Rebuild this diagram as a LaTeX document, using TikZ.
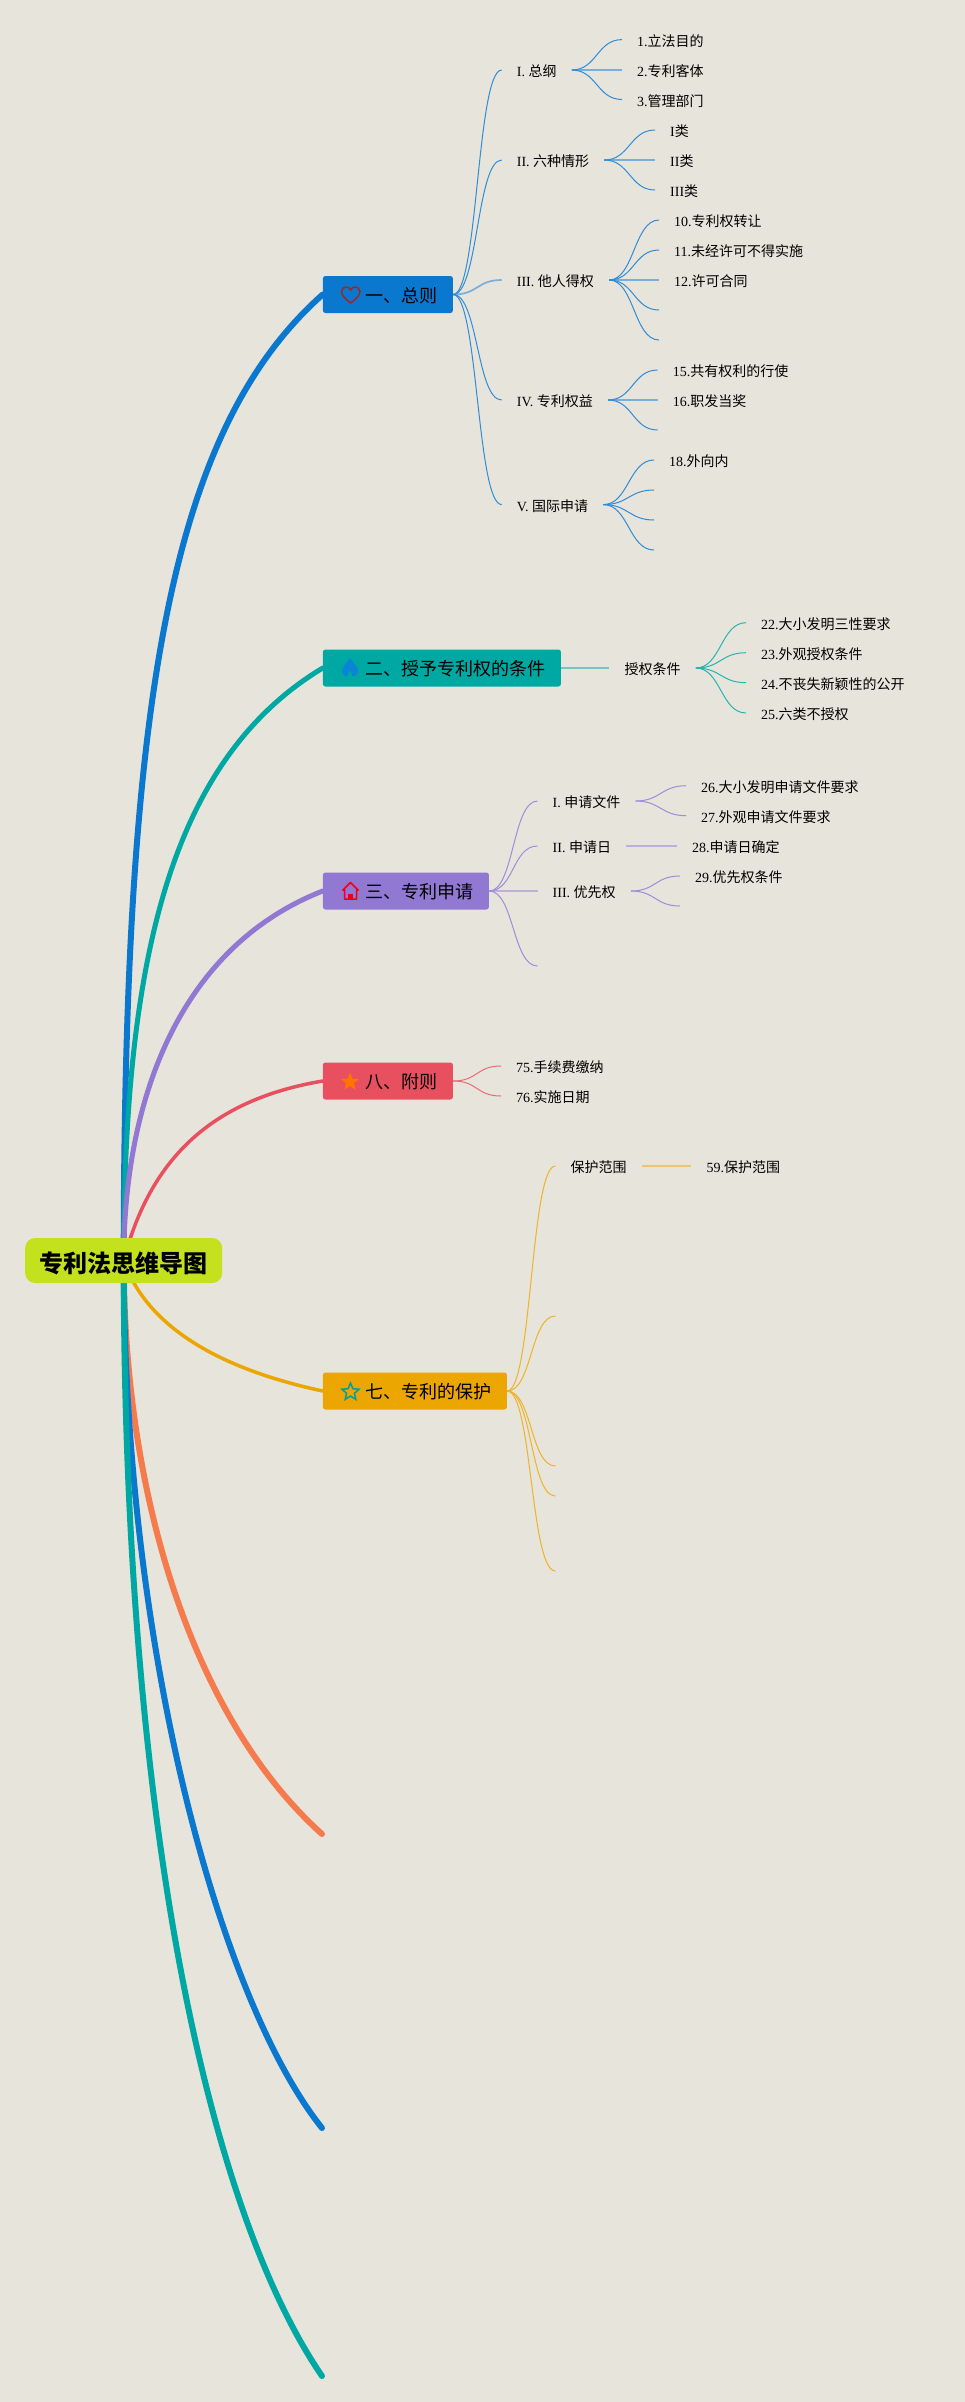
\documentclass[tikz,border=0pt]{standalone}
\usepackage{fontspec}
\setmainfont{Liberation Serif}
\newfontfamily\cjk{Noto Sans CJK SC}
\usetikzlibrary{shapes.geometric,backgrounds}
\definecolor{pageBg}{RGB}{231,228,219}
\definecolor{rootGreen}{RGB}{195,225,28}
\definecolor{mainBlue}{RGB}{11,120,208}
\definecolor{mainTeal}{RGB}{0,168,163}
\definecolor{mainPurple}{RGB}{145,120,211}
\definecolor{mainRed}{RGB}{233,80,95}
\definecolor{mainGold}{RGB}{235,166,2}
\definecolor{mainOrange}{RGB}{245,123,77}
\tikzset{
  topic/.style={rectangle,rounded corners=2.5pt,anchor=west,minimum height=37pt,inner xsep=15pt,inner ysep=0pt,
    text height=16.2pt,text depth=1pt,font=\fontsize{18}{20}\selectfont\cjk,execute at begin node=\hspace*{28pt}},
  label/.style={anchor=west,inner xsep=15pt,inner ysep=0pt,text height=14pt,text depth=1pt,font=\fontsize{14}{16}\selectfont},
  branch/.style={line width=#1,line cap=round},
  sublink/.style={line width=1pt,out=0,in=180,out distance=25pt,in distance=25pt},
  flat/.style={line width=1.7pt,opacity=.6},
}

\begin{document}
\begin{tikzpicture}[x=1pt,y=-1pt]
\useasboundingbox (0,0) rectangle (965,2402);
\begin{scope}[on background layer]
\fill[pageBg] (0,0) rectangle (965,2402);
\end{scope}

% Root
\node[rectangle,rounded corners=10pt,fill=rootGreen,minimum width=197pt,minimum height=45pt,inner sep=0pt,
  text height=24.2pt,text depth=1pt,font=\fontsize{24}{26}\selectfont\cjk\bfseries] (root) at (123.7,1260.5) {专利法思维导图};

% Topics
\node[topic,fill=mainBlue] (t1) at (322.7,294.5) {一、总则};
\node[topic,fill=mainTeal] (t2) at (322.7,668) {二、授予专利权的条件};
\node[topic,fill=mainPurple] (t3) at (322.7,891) {三、专利申请};
\node[topic,fill=mainRed] (t8) at (322.7,1081) {八、附则};
\node[topic,fill=mainGold] (t7) at (322.7,1391) {七、专利的保护};
\coordinate (fa) at (322,1834);
\coordinate (fb) at (322,2128);
\coordinate (fc) at (322,2376);

% Icons
\draw[line width=1.5pt,color=red!55!black!85] (350.7,303) .. controls (344,298) and (341.5,294.5) .. (341.5,291.5) .. controls (341.5,288.5) and (344,287) .. (346,287) .. controls (348,287) and (350,288) .. (350.7,290) .. controls (351.4,288) and (353.4,287) .. (355.4,287) .. controls (357.4,287) and (360,288.5) .. (360,291.5) .. controls (360,294.5) and (357.4,298) .. (350.7,303) -- cycle;
\fill[color=mainBlue!90!cyan] (350,658) .. controls (352,662) and (358,666) .. (358,671) .. controls (358,675) and (354,677) .. (350,677) .. controls (346,677) and (342,675) .. (342,671) .. controls (342,666) and (348,662) .. (350,658) -- cycle;
\fill[mainTeal] (347.5,677) .. controls (348,673) and (349,672) .. (350,671) .. controls (351,672) and (352,673) .. (352.5,677) -- cycle;
\draw[line width=1.5pt,color=red!80!purple,line join=round] (342.5,890.5) -- (350.5,882.5) -- (358.5,890.5) (344.5,889) -- (344.5,899) -- (356.5,899) -- (356.5,889);
\fill[color=red!80!purple] (348.3,899) rectangle (352.7,894);
\node[star,star points=5,star point ratio=2.3,minimum size=19pt,inner sep=0pt,fill=orange!90!red] (s8) at (350,1082) {};
\node[star,star points=5,star point ratio=2.2,minimum size=18pt,inner sep=0pt,draw=teal!75!cyan,line width=1.5pt] (s7) at (350.5,1392) {};

% Labels of t1
\node[label] (a1) at (501.7,70) {I. {\cjk 总纲}};
\node[label] (a2) at (501.7,160) {II. {\cjk 六种情形}};
\node[label] (a3) at (501.7,280) {III. {\cjk 他人得权}};
\node[label] (a4) at (501.7,400) {IV. {\cjk 专利权益}};
\node[label] (a5) at (501.7,504.6) {V. {\cjk 国际申请}};
\node[label] (a11) at (622,39.6) {1.{\cjk 立法目的}};
\node[label] (a12) at (622,70) {2.{\cjk 专利客体}};
\node[label] (a13) at (622,99.5) {3.{\cjk 管理部门}};
\node[label] (a21) at (655,130) {I{\cjk 类}};
\node[label] (a22) at (655,160) {II{\cjk 类}};
\node[label] (a23) at (655,190) {III{\cjk 类}};
\node[label] (a31) at (659,220) {10.{\cjk 专利权转让}};
\node[label] (a32) at (659,250) {11.{\cjk 未经许可不得实施}};
\node[label] (a33) at (659,280) {12.{\cjk 许可合同}};
\coordinate (a34) at (659,310);
\coordinate (a35) at (659,340);
\node[label] (a41) at (657.7,370) {15.{\cjk 共有权利的行使}};
\node[label] (a42) at (657.7,400) {16.{\cjk 职发当奖}};
\coordinate (a43) at (657.7,430);
\node[label] (a51) at (654,460) {18.{\cjk 外向内}};
\coordinate (a52) at (654,490);
\coordinate (a53) at (654,520);
\coordinate (a54) at (654,550);

% Labels of t2
\node[label] (b1) at (609.4,668) {{\cjk 授权条件}};
\node[label] (b11) at (746,622.7) {22.{\cjk 大小发明三性要求}};
\node[label] (b12) at (746,652.7) {23.{\cjk 外观授权条件}};
\node[label] (b13) at (746,682.7) {24.{\cjk 不丧失新颖性的公开}};
\node[label] (b14) at (746,713) {25.{\cjk 六类不授权}};

% Labels of t3
\node[label] (c1) at (537.5,801) {I. {\cjk 申请文件}};
\node[label] (c2) at (537.5,846) {II. {\cjk 申请日}};
\node[label] (c3) at (537.5,891) {III. {\cjk 优先权}};
\coordinate (c4) at (537.5,966);
\node[label] (c11) at (686,785.7) {26.{\cjk 大小发明申请文件要求}};
\node[label] (c12) at (686,815.7) {27.{\cjk 外观申请文件要求}};
\node[label] (c21) at (677,846) {28.{\cjk 申请日确定}};
\node[label] (c31) at (680,876) {29.{\cjk 优先权条件}};
\coordinate (c32) at (680,906);

% Labels of t8
\node[label] (d1) at (501,1066) {75.{\cjk 手续费缴纳}};
\node[label] (d2) at (501,1096) {76.{\cjk 实施日期}};

% Labels of t7
\node[label] (e1) at (555.4,1166) {{\cjk 保护范围}};
\coordinate (e2) at (555.4,1316);
\coordinate (e3) at (555.4,1466);
\coordinate (e4) at (555.4,1496);
\coordinate (e5) at (555.4,1571);
\node[label] (e11) at (691.4,1166) {59.{\cjk 保护范围}};

\begin{scope}[on background layer]
% Main branches
\draw[branch=6pt,mainBlue] (root.center) .. controls (124,700) and (170,430) .. (t1.west);
\draw[branch=5pt,mainTeal] (root.center) .. controls (124,960) and (170,760) .. (t2.west);
\draw[branch=5pt,mainPurple] (root.center) .. controls (124,1090) and (185,945) .. (t3.west);
\draw[branch=3.5pt,mainRed] (root.center) .. controls (150,1160) and (210,1100) .. (t8.west);
\draw[branch=3.5pt,mainGold] (root.center) .. controls (148,1330) and (225,1370) .. (t7.west);
\draw[branch=6pt,mainOrange] (root.center) .. controls (124,1500) and (195,1720) .. (fa);
\draw[branch=6pt,mainBlue] (root.center) .. controls (124,1650) and (220,2000) .. (fb);
\draw[branch=6pt,mainTeal] (root.center) .. controls (124,1850) and (215,2220) .. (fc);
\end{scope}

% Links of t1
\begin{scope}[color=mainBlue!85]
\foreach \n in {a1,a2,a4,a5} \draw[sublink] (t1.east) to (\n.west);
\draw[sublink,flat] (t1.east) to (a3.west);
\foreach \n in {a11,a13} \draw[sublink] (a1.east) to (\n.west);
\draw[sublink,flat] (a1.east) to (a12.west);
\foreach \n in {a21,a23} \draw[sublink] (a2.east) to (\n.west);
\draw[sublink,flat] (a2.east) to (a22.west);
\foreach \n in {a31,a32} \draw[sublink] (a3.east) to (\n.west);
\draw[sublink,flat] (a3.east) to (a33.west);
\foreach \n in {a34,a35} \draw[sublink] (a3.east) to (\n);
\draw[sublink] (a4.east) to (a41.west);
\draw[sublink,flat] (a4.east) to (a42.west);
\draw[sublink] (a4.east) to (a43);
\draw[sublink] (a5.east) to (a51.west);
\foreach \n in {a52,a53,a54} \draw[sublink] (a5.east) to (\n);
\end{scope}

% Links of t2
\begin{scope}[color=mainTeal!85]
\draw[sublink,flat] (t2.east) to (b1.west);
\foreach \n in {b11,b12,b13,b14} \draw[sublink] (b1.east) to (\n.west);
\end{scope}

% Links of t3
\begin{scope}[color=mainPurple!85]
\foreach \n in {c1,c2} \draw[sublink] (t3.east) to (\n.west);
\draw[sublink,flat] (t3.east) to (c3.west);
\draw[sublink] (t3.east) to (c4);
\foreach \n in {c11,c12} \draw[sublink] (c1.east) to (\n.west);
\draw[sublink,flat] (c2.east) to (c21.west);
\draw[sublink] (c3.east) to (c31.west);
\draw[sublink] (c3.east) to (c32);
\end{scope}

% Links of t8
\begin{scope}[color=mainRed!85]
\foreach \n in {d1,d2} \draw[sublink] (t8.east) to (\n.west);
\end{scope}

% Links of t7
\begin{scope}[color=mainGold!85]
\draw[sublink] (t7.east) to (e1.west);
\foreach \n in {e2,e3,e4,e5} \draw[sublink] (t7.east) to (\n);
\draw[sublink,flat] (e1.east) to (e11.west);
\end{scope}
\end{tikzpicture}
\end{document}
